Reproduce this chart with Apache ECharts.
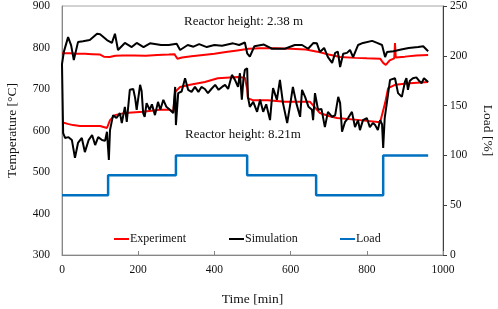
<!DOCTYPE html>
<html>
<head>
<meta charset="utf-8">
<script src="https://cdn.jsdelivr.net/npm/echarts@6/dist/echarts.min.js"></script>
<style>
  html, body { margin: 0; padding: 0; background: #fff; }
  #chart { width: 498px; height: 309px; }
</style>
</head>
<body>
<div id="chart"></div>
<script>
// Experiment, reactor height 2.38 m
const expTopTime = [0, 20, 40, 60, 80, 100, 110, 125, 140, 160, 190, 220, 250, 280, 295, 303, 315, 340, 370, 400, 430, 460, 490, 520, 560, 600, 640, 670, 700, 730, 770, 800, 835, 843, 850, 860, 872, 874, 876, 900, 930, 961];
const expTop = [786, 786, 785, 785, 784, 783, 778, 777, 780, 781, 781, 780, 782, 783, 784, 773, 776, 779, 782, 785, 789, 793, 797, 798, 798, 797, 795, 790, 783, 777, 775, 774, 773, 763, 758, 769, 774, 811, 776, 778, 781, 782];

// Simulation, reactor height 2.38 m
const simTopTime = [0, 5, 16, 24, 31, 42, 55, 73, 92, 100, 118, 131, 139, 147, 165, 183, 196, 214, 231, 260, 280, 301, 310, 330, 345, 360, 380, 400, 420, 449, 465, 480, 486, 493, 505, 530, 551, 585, 611, 630, 646, 660, 669, 677, 688, 698, 709, 717, 724, 730, 738, 748, 756, 764, 777, 790, 814, 827, 840, 848, 853, 870, 890, 910, 935, 948, 961];
const simTop = [760, 790, 825, 805, 770, 813, 815, 818, 833, 832, 818, 811, 833, 794, 811, 801, 811, 801, 810, 806, 806, 809, 794, 806, 802, 808, 801, 806, 804, 810, 806, 812, 786, 778, 803, 807, 797, 797, 806, 806, 797, 811, 810, 789, 799, 777, 763, 787, 790, 753, 785, 787, 794, 777, 806, 811, 816, 811, 806, 777, 789, 791, 795, 799, 801, 803, 791];

// Experiment, reactor height 8.21 m
const expBotTime = [0, 15, 29, 47, 80, 100, 118, 126, 139, 165, 213, 257, 283, 292, 297, 310, 336, 375, 409, 462, 480, 486, 488, 500, 540, 585, 651, 677, 700, 722, 782, 835, 840, 848, 856, 874, 913, 961];
const expBot = [620, 616, 613, 611, 611, 611, 606, 625, 637, 642, 645, 650, 650, 645, 693, 705, 710, 717, 726, 729, 727, 700, 678, 673, 673, 669, 669, 642, 635, 630, 625, 620, 621, 666, 702, 710, 714, 717];

// Simulation, reactor height 8.21 m
const simBotTime = [0, 3, 8, 17, 26, 34, 42, 52, 60, 70, 79, 87, 95, 105, 113, 118, 123, 126, 134, 143, 152, 157, 165, 170, 178, 187, 192, 196, 205, 209, 213, 217, 222, 230, 236, 244, 252, 258, 266, 274, 283, 292, 297, 299, 305, 314, 323, 331, 340, 349, 358, 366, 375, 383, 392, 402, 411, 420, 428, 436, 446, 454, 462, 467, 472, 476, 480, 486, 488, 493, 502, 512, 520, 528, 536, 546, 551, 554, 564, 572, 580, 591, 598, 606, 615, 625, 630, 638, 647, 656, 659, 664, 672, 681, 690, 698, 709, 717, 725, 730, 735, 743, 751, 761, 769, 777, 782, 790, 800, 808, 816, 822, 829, 835, 840, 843, 847, 853, 861, 866, 874, 882, 892, 900, 904, 908, 913, 921, 930, 937, 944, 950, 961];
const simBot = [760, 594, 582, 584, 577, 534, 570, 582, 548, 577, 589, 565, 584, 577, 575, 597, 529, 601, 637, 630, 642, 618, 657, 621, 698, 700, 678, 650, 710, 695, 642, 633, 666, 650, 663, 637, 669, 650, 674, 657, 650, 642, 705, 613, 690, 694, 726, 698, 693, 705, 693, 705, 700, 690, 700, 710, 698, 705, 710, 700, 734, 722, 705, 738, 674, 722, 746, 750, 681, 657, 669, 645, 674, 645, 663, 625, 678, 702, 674, 722, 666, 618, 657, 705, 666, 633, 698, 681, 657, 650, 625, 690, 650, 652, 608, 645, 633, 637, 681, 666, 597, 621, 630, 645, 608, 625, 601, 625, 630, 608, 618, 613, 601, 625, 615, 558, 630, 669, 722, 718, 726, 690, 681, 717, 726, 698, 720, 726, 728, 720, 714, 726, 717];

// Load steps [%]
const loadTime = [0, 121, 299, 486, 667, 843, 961];
const load = [60, 80, 100, 80, 60, 100, 100];

const tempTicks = { min: 300, max: 900, interval: 100 };
const loadTicks = { min: 0, max: 250, interval: 50 };
const timeTicks = { min: 0, max: 1000, interval: 200 };

const zip = (xs, ys) => xs.map((x, i) => [x, ys[i]]);

const FONT = "'Liberation Serif', 'Times New Roman', serif";
const AXIS_GREY = "#868686";

const chart = echarts.init(document.getElementById("chart"));

const lineSeries = (name, data, color, width) => ({
    name,
    type: "line",
    data,
    showSymbol: false,
    symbol: "none",
    lineStyle: { color, width },
    itemStyle: { color },
    animation: false,
});

const legendAt = (name, left) => ({
    data: [name],
    left,
    top: 228,
    icon: "rect",
    itemWidth: 15,
    itemHeight: 2,
    textStyle: { fontFamily: FONT, fontSize: 12, color: "#111", padding: [0, 0, 0, -4] },
});

const plainLabel = (v) => String(v);

const option = {
    backgroundColor: "#fff",
    textStyle: { fontFamily: FONT },
    grid: {
        left: 62,
        right: 55,
        top: 6,
        bottom: 54,
        show: true,
        borderColor: "#a6a6a6",
        borderWidth: 1,
        containLabel: false,
        outerBoundsMode: "none",
    },
    legend: [
        legendAt("Experiment", 109),
        legendAt("Simulation", 224),
        legendAt("Load", 335),
    ],
    xAxis: {
        type: "value",
        ...timeTicks,
        name: "Time [min]",
        nameLocation: "middle",
        nameGap: 37,
        nameTextStyle: { fontFamily: FONT, fontSize: 13.5, color: "#111" },
        axisLine: { show: true, lineStyle: { color: AXIS_GREY, width: 1 } },
        axisTick: { show: true, inside: true, length: 4, lineStyle: { color: AXIS_GREY } },
        axisLabel: { fontFamily: FONT, fontSize: 11.5, color: "#111", margin: 9, formatter: plainLabel },
        splitLine: { show: false },
    },
    yAxis: [
        {
            type: "value",
            ...tempTicks,
            position: "left",
            name: "Temperature [°C]",
            nameLocation: "middle",
            nameGap: 43,
            nameTextStyle: { fontFamily: FONT, fontSize: 13.5, color: "#111" },
            axisLine: { show: true, lineStyle: { color: AXIS_GREY, width: 1 } },
            axisTick: { show: false },
            axisLabel: { fontFamily: FONT, fontSize: 11.5, color: "#111", margin: 12, formatter: plainLabel },
            splitLine: { show: false },
        },
        {
            type: "value",
            ...loadTicks,
            position: "right",
            name: "Load [%]",
            nameLocation: "middle",
            nameRotate: -90,
            nameGap: 38,
            nameTextStyle: { fontFamily: FONT, fontSize: 13.5, color: "#111" },
            axisLine: { show: true, lineStyle: { color: "#404040", width: 1 } },
            axisTick: { show: true, inside: false, length: 4, lineStyle: { color: "#404040" } },
            axisLabel: { fontFamily: FONT, fontSize: 11.5, color: "#111", margin: 7, formatter: plainLabel },
            splitLine: { show: false },
        },
    ],
    graphic: [
        {
            type: "text",
            left: 184,
            top: 15,
            style: { text: "Reactor height: 2.38 m", font: "13px " + FONT, fill: "#111" },
        },
        {
            type: "text",
            left: 185,
            top: 128,
            style: { text: "Reactor height: 8.21m", font: "13px " + FONT, fill: "#111" },
        },
    ],
    series: [
        {
            ...lineSeries("Load", zip(loadTime, load), "#0070c0", 2.5),
            yAxisIndex: 1,
            step: "end",
            z: 1,
        },
        { ...lineSeries("Experiment", zip(expTopTime, expTop), "#ff0000", 2), z: 2 },
        { ...lineSeries("Experiment", zip(expBotTime, expBot), "#ff0000", 2), z: 2 },
        { ...lineSeries("Simulation", zip(simTopTime, simTop), "#000000", 2), z: 3 },
        { ...lineSeries("Simulation", zip(simBotTime, simBot), "#000000", 2), z: 3 },
    ],
};

chart.setOption(option);
</script>
</body>
</html>
